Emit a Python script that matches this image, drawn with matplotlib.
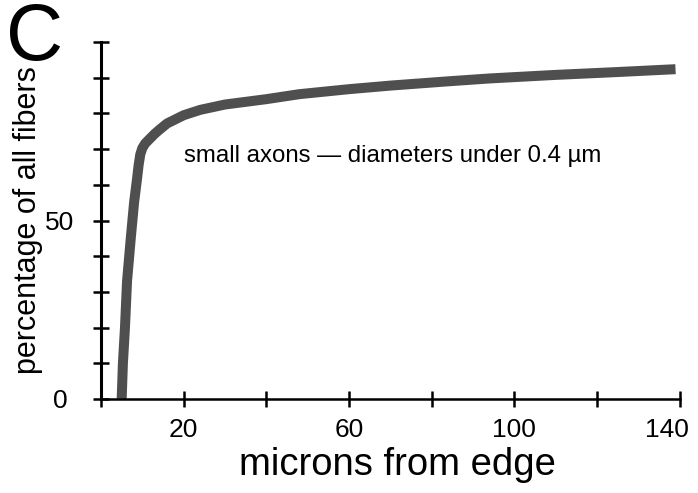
import matplotlib
matplotlib.use("Agg")
import matplotlib.pyplot as plt
import matplotlib.transforms as mtransforms

plt.rcParams['font.family'] = ['Liberation Sans', 'DejaVu Sans']

# microns from edge vs cumulative percentage of small fibers
microns = [5.0, 5.3, 5.8, 6.3, 7.2, 8.0, 8.7, 9.1, 9.5, 10.0, 10.7, 11.8,
           13, 14.3, 16, 20, 24, 30, 40, 48, 60, 70, 84, 94, 110, 125, 139]
percent = [0, 10, 20, 33, 45, 55, 61.5, 65.5, 68.5, 70.3, 71.6, 72.9,
           74.3, 75.6, 77.2, 79.5, 81, 82.5, 84, 85.4, 86.8, 87.8, 89, 89.8,
           90.8, 91.6, 92.4]

x_ticks = [0, 20, 40, 60, 80, 100, 120, 140]
x_labels = ['', '20', '', '60', '', '100', '', '140']
y_ticks = list(range(0, 101, 10))
y_labels = ['0' if v == 0 else '50' if v == 50 else '' for v in y_ticks]

fig = plt.figure(figsize=(6.98, 4.93), dpi=100)
ax = fig.add_axes([0.1447, 0.1907, 0.829, 0.724])

# screened grey band
ax.plot(microns, percent, color='#4f4f4f', lw=7.2, solid_capstyle='butt',
        solid_joinstyle='round')

ax.set_xlim(0, 140)
ax.set_ylim(0, 100)
ax.set_xticks(x_ticks)
ax.set_xticklabels(x_labels)
ax.set_yticks(y_ticks)
ax.set_yticklabels(y_labels)

for s in ['top', 'right']:
    ax.spines[s].set_visible(False)
ax.spines['left'].set_linewidth(2.2)
ax.spines['bottom'].set_linewidth(1.8)
for s in ['left', 'bottom']:
    ax.spines[s].set_clip_on(False)
ax.tick_params(direction='inout', length=11, width=1.8, labelsize=19)
ax.tick_params(axis='x', pad=8)
ax.tick_params(axis='y', pad=24)
for lab in ax.get_yticklabels():
    lab.set_horizontalalignment('center')
# last x label sits a bit left of its tick in the original
last = ax.get_xticklabels()[-1]
last.set_transform(last.get_transform() +
                   mtransforms.ScaledTranslation(-0.13, 0, fig.dpi_scale_trans))

ax.set_xlabel('microns from edge', fontsize=27.5, labelpad=4)
ax.xaxis.label.set_x(0.512)
ax.set_ylabel('percentage of all fibers', fontsize=22, labelpad=2)

ax.text(20, 68, 'small axons \u2014 diameters under 0.4 \u00b5m',
        fontsize=17.3, va='center', ha='left')

fig.text(0.008, 0.995, 'C', fontsize=57, va='top', ha='left')

fig.savefig('out.png', dpi=100)
